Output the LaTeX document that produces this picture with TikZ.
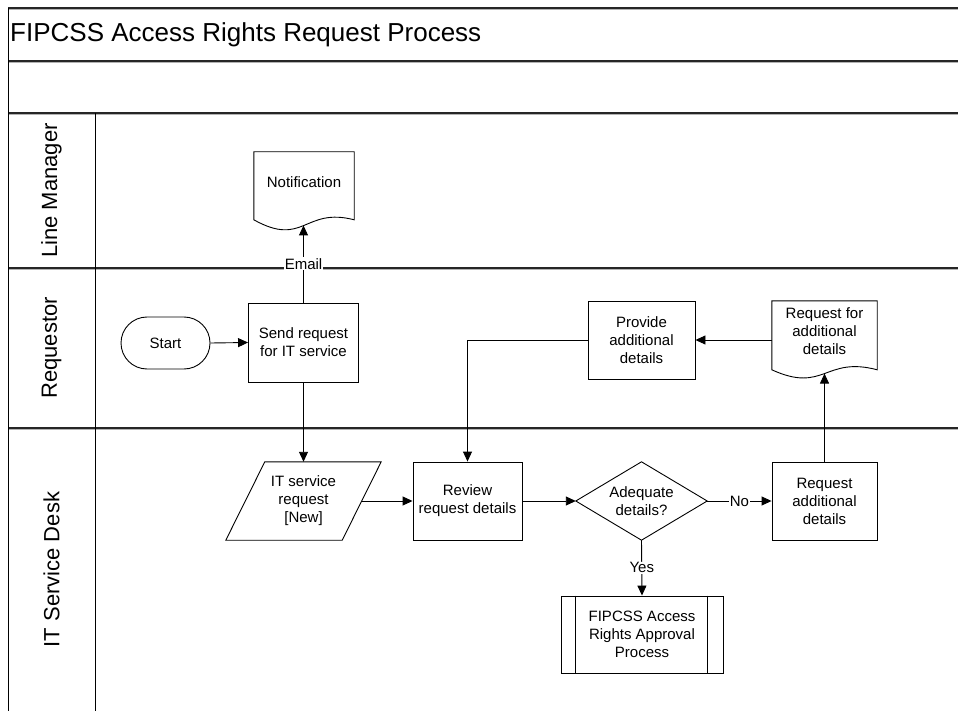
\documentclass[tikz,border=0pt]{standalone}
\usepackage{fontspec}
\setmainfont{Liberation Sans}
\usetikzlibrary{arrows.meta,calc}

\begin{document}
\begin{tikzpicture}[x=1pt,y=-1pt,
  every node/.style={inner sep=0pt, align=center},
  nodefont/.style={font=\fontsize{15}{18}\selectfont},
  outline/.style={draw=black, line width=0.9pt},
  boxnode/.style={outline, nodefont},
  textonly/.style={nodefont},
  arr/.style={draw=black, line width=0.9pt, -{Triangle[length=10pt,width=9pt]}},
  lbl/.style={nodefont, fill=white, inner sep=1pt},
  laneline/.style={line width=1.3pt, draw=black!85,
    preaction={draw=black!30, line width=1pt, transform canvas={yshift=-1.6pt}}},
  lanetitle/.style={font=\fontsize{22}{26}\selectfont, rotate=90},
]
\useasboundingbox (0,0) rectangle (958,711);

% pool frame and swimlanes
\draw[laneline] (8,8) -- (958,8);
\draw[laneline] (8,61) -- (958,61);
\draw[laneline] (8,113) -- (958,113);
\draw[laneline] (8,268) -- (958,268);
\draw[laneline] (8,428) -- (958,428);
\draw[line width=1pt] (8,8) -- (8,711);
\draw[line width=1pt] (95,113) -- (95,711);

\node[anchor=west, font=\fontsize{26}{30}\selectfont] (title) at (10,34.5) {FIPCSS Access Rights Request Process};
\node[lanetitle] (lane-lm) at (51.5,190.5) {Line Manager};
\node[lanetitle] (lane-rq) at (51.5,348) {Requestor};
\node[lanetitle] (lane-sd) at (51.5,569.5) {IT Service Desk};

% Line Manager lane
\node[textonly, minimum width=100pt, minimum height=60pt] (notif) at (304,182) {Notification};
\draw[outline] (notif.north west) -- ($(notif.north west)+(0,68)$)
  .. controls ($(notif.north)+(0,96)$) and ($(notif.north)+(0,55)$) .. ($(notif.north east)+(0,68)$)
  coordinate[pos=0.5] (notif-b)
  -- (notif.north east) -- cycle;

% Requestor lane
\node[boxnode, rounded corners=26pt, minimum width=89pt, minimum height=52pt] (start) at (165.5,343) {Start};
\node[boxnode, minimum width=110pt, minimum height=79pt] (send) at (303.5,342.5) {Send request\\for IT service};
\node[boxnode, minimum width=107pt, minimum height=78pt] (provide) at (641.5,340) {Provide\\additional\\details};
\node[textonly, minimum width=105pt, minimum height=60pt] (reqdoc) at (824.5,331) {Request for\\additional\\details};
\draw[outline] (reqdoc.north west) -- ($(reqdoc.north west)+(0,69)$)
  .. controls ($(reqdoc.north)+(0,93)$) and ($(reqdoc.north)+(0,55)$) .. ($(reqdoc.north east)+(0,69)$)
  coordinate[pos=0.5] (reqdoc-b)
  -- (reqdoc.north east) -- cycle;

% IT Service Desk lane
\node[textonly, minimum width=155pt, minimum height=78pt] (itreq) at (303.5,501) {IT service\\request\\{[New]}};
\draw[outline] ($(itreq.north west)+(39,0)$) -- (itreq.north east)
  -- ($(itreq.south east)+(-39,0)$) -- (itreq.south west) -- cycle;
\coordinate (itreq-e) at ($(itreq.east)+(-19.5,0)$);

\node[boxnode, minimum width=109pt, minimum height=78pt] (review) at (467.5,501) {Review\\request details};
\node[textonly, minimum width=131pt, minimum height=78pt] (adeq) at (641.5,501) {Adequate\\details?};
\draw[outline] (adeq.north) -- (adeq.east) -- (adeq.south) -- (adeq.west) -- cycle;
\node[boxnode, minimum width=105pt, minimum height=78pt] (reqadd) at (824.5,501) {Request\\additional\\details};
\node[boxnode, minimum width=162pt, minimum height=77pt] (approval) at (642,634.5) {FIPCSS Access\\Rights Approval\\Process};
\draw[outline] ($(approval.north west)+(15,0)$) -- ($(approval.south west)+(15,0)$);
\draw[outline] ($(approval.north east)+(-16,0)$) -- ($(approval.south east)+(-16,0)$);

% connectors
\draw[arr] (start.east) -- (send.west);
\draw[arr] (send.north) -- node[lbl] {Email} (send.north |- notif-b);
\draw[arr] (send.south) -- (itreq.north);
\draw[arr] (itreq-e) -- (review.west);
\draw[arr] (review.east) -- (adeq.west);
\draw[arr] (adeq.east) -- node[lbl] {No} (reqadd.west);
\draw[arr] (adeq.south) -- node[lbl] {Yes} (approval.north);
\draw[arr] (reqadd.north) -- (reqadd.north |- reqdoc-b);
\draw[arr] (provide.east -| reqdoc.west) -- (provide.east);
\draw[arr] (provide.west) -| (review.north);
\end{tikzpicture}
\end{document}
